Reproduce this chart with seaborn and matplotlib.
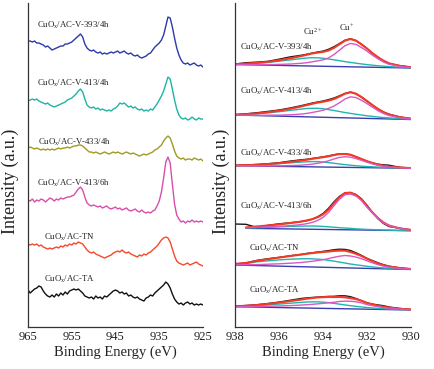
import numpy as np
import matplotlib
matplotlib.use("Agg")
import matplotlib.pyplot as plt
import seaborn as sns

sns.set_style("white")
plt.rcParams["font.family"] = ["Liberation Serif", "DejaVu Serif"]
plt.rcParams["mathtext.default"] = "regular"

# ---------------- left panel: Cu 2p spectra, 965 -> 925 eV, 0.5 eV step
energy_wide = np.arange(965.0, 924.9, -0.5)

# intensity above each trace's own tail level (a.u.)
cu_393_4h = [26, 26, 25, 26, 24, 24, 23, 22, 20, 21,
             19, 17, 18, 19, 20, 21, 21, 23, 23, 24,
             25, 27, 29, 31, 33, 30, 23, 19, 17, 16,
             17, 15, 14, 15, 13, 14, 13, 14, 15, 14,
             15, 16, 14, 15, 16, 14, 13, 14, 12, 11,
             12, 10, 9, 10, 11, 13, 14, 17, 20, 22,
             24, 27, 32, 41, 50, 49, 40, 29, 19, 12,
             7, 4, 3, 4, 2, 3, 4, 2, 1, 2, 0]
cu_413_4h = [18, 19, 20, 19, 20, 18, 17, 16, 15, 16,
             14, 13, 12, 13, 14, 15, 16, 17, 19, 20,
             21, 23, 25, 28, 30, 27, 20, 14, 12, 11,
             12, 10, 11, 9, 10, 9, 8, 9, 8, 10,
             11, 13, 16, 15, 16, 14, 12, 13, 11, 12,
             10, 9, 10, 8, 9, 8, 10, 9, 12, 15,
             19, 23, 28, 35, 42, 40, 30, 19, 10, 4,
             1, 0, 1, -1, 0, 2, 0, -1, 1, 0, 0]
cu_433_4h = [12, 13, 12, 11, 12, 11, 10, 11, 10, 11,
             10, 11, 10, 11, 12, 11, 12, 12, 13, 12,
             13, 14, 14, 15, 15, 14, 12, 10, 8, 8,
             7, 8, 7, 6, 7, 8, 7, 6, 7, 8,
             7, 8, 7, 6, 7, 8, 7, 6, 7, 6,
             5, 4, 5, 6, 5, 6, 7, 8, 10, 11,
             13, 15, 19, 22, 24, 22, 16, 9, 4, 2,
             1, 2, 0, 1, 1, 0, 2, 1, 0, 1, -1]
cu_413_6h = [22, 21, 23, 20, 22, 21, 23, 22, 20, 22,
             24, 23, 21, 23, 22, 24, 23, 24, 25, 25,
             26, 27, 30, 33, 35, 32, 25, 19, 17, 16,
             17, 16, 15, 16, 14, 15, 16, 14, 13, 14,
             15, 13, 14, 12, 13, 14, 12, 11, 12, 13,
             11, 10, 12, 10, 9, 10, 9, 11, 12, 16,
             21, 30, 44, 60, 65, 59, 38, 18, 7, 3,
             0, 1, -1, 1, 0, 2, 0, 1, 0, 1, 0]
cu_tn = [21, 20, 21, 20, 21, 19, 20, 18, 17, 16,
         17, 16, 17, 18, 17, 19, 18, 20, 19, 21,
         20, 22, 21, 23, 22, 21, 18, 15, 13, 12,
         13, 11, 10, 9, 8, 7, 8, 9, 10, 12,
         13, 14, 13, 15, 13, 12, 13, 11, 10, 9,
         8, 10, 9, 11, 10, 12, 13, 15, 17, 19,
         22, 25, 27, 28, 27, 23, 16, 9, 4, 2,
         1, 0, 1, 2, 0, 1, 2, 3, 1, 0, -1]
cu_ta = [14, 11, 13, 15, 16, 18, 17, 13, 10, 8,
         7, 9, 7, 10, 8, 11, 9, 12, 10, 13,
         14, 15, 14, 15, 13, 11, 8, 7, 6, 7,
         5, 8, 6, 7, 5, 8, 7, 9, 11, 13,
         14, 13, 11, 12, 10, 11, 8, 9, 7, 6,
         7, 5, 4, 3, 6, 7, 9, 8, 11, 13,
         15, 17, 19, 22, 20, 16, 10, 5, 2, 0,
         1, -1, 1, 2, 0, 1, -1, 0, -1, 0, -1]

wide_series = [cu_393_4h, cu_413_4h, cu_433_4h, cu_413_6h, cu_tn, cu_ta]
wide_offsets = [260, 208, 167, 105, 62, 23]
wide_colors = ["#2c3aa6", "#1fb3a6", "#a09a22", "#d94ea8", "#f5482a", "#111111"]

sample_names = [r"CuO$_x$/AC-V-393/4h", r"CuO$_x$/AC-V-413/4h", r"CuO$_x$/AC-V-433/4h",
                r"CuO$_x$/AC-V-413/6h", r"CuO$_x$/AC-TN", r"CuO$_x$/AC-TA"]

# ---------------- right panel: Cu 2p3/2 peak fitting, 938 -> 930 eV
energy_fit = [938.0, 937.5, 937.0, 936.5, 936.0, 935.5, 935.0, 934.75, 934.5,
              934.25, 934.0, 933.75, 933.5, 933.25, 933.0, 932.75, 932.5,
              932.25, 932.0, 931.75, 931.5, 931.25, 931.0, 930.5, 930.0]

# raw data, envelope, Cu2+ and Cu+ components, baseline end points
raw_393 = [0.5, 1.8, 2.4, 3.2, 5.3, 7.6, 9.2, 10.2, 11.4, 12.5, 13.4, 15.2, 17.8,
           21.0, 24.3, 25.8, 24.0, 20.3, 16.0, 11.0, 7.0, 3.6, 1.0, -1.2, -2.6]
env_393 = [0.3, 0.9, 1.7, 2.7, 4.3, 6.2, 8.4, 9.7, 11.0, 11.9, 12.65, 14.0, 16.7,
           20.3, 23.9, 25.5, 23.8, 20.1, 15.9, 11.3, 7.3, 3.8, 1.2, -1.4, -2.7]
cu2_393 = [0.3, 0.8, 1.4, 2.1, 3.3, 4.6, 5.9, 6.5, 6.8, 6.7, 6.25, 5.5, 4.7,
           3.8, 2.9, 2.1, 1.3, 0.6, -0.1, -0.7, -1.2, -1.7, -2.1, -2.7, -3.2]
cu1_393 = [0.0, -0.1, -0.1, -0.1, 0.1, 0.5, 1.2, 1.8, 2.7, 3.6, 4.65, 6.6, 10.0,
           14.4, 18.8, 21.1, 20.1, 17.0, 13.4, 9.3, 5.7, 2.5, 0.2, -2.0, -3.0]
base_393 = [0.0, -3.5]

raw_413 = [0.4, 1.2, 2.3, 3.6, 5.0, 7.0, 9.3, 10.6, 11.9, 13.0, 14.0, 15.4, 17.0,
           19.2, 21.6, 22.9, 21.2, 17.8, 13.8, 9.8, 6.1, 3.0, 0.8, -2.0, -3.6]
env_413 = [0.3, 0.8, 1.6, 2.8, 4.3, 6.2, 8.5, 9.9, 11.2, 12.4, 13.25, 14.4, 16.0,
           18.5, 21.3, 22.8, 21.3, 18.0, 14.0, 9.9, 6.0, 2.8, 0.5, -2.2, -3.7]
cu2_413 = [0.3, 0.7, 1.3, 2.2, 3.3, 4.6, 5.9, 6.5, 6.7, 6.7, 6.25, 5.4, 4.5,
           3.5, 2.5, 1.6, 0.8, 0.0, -0.8, -1.4, -2.0, -2.5, -2.9, -3.6, -4.2]
cu1_413 = [0.0, -0.2, -0.3, -0.2, -0.1, 0.2, 0.9, 1.6, 2.5, 3.6, 4.75, 6.6, 9.0,
           12.3, 16.0, 18.2, 17.4, 14.8, 11.4, 7.8, 4.3, 1.5, -0.5, -2.8, -4.0]
base_413 = [0.0, -4.5]

raw_433 = [0.3, 0.7, 1.3, 2.0, 3.0, 4.6, 5.9, 6.4, 7.2, 8.0, 8.8, 9.8, 11.0,
           11.9, 11.9, 11.0, 8.8, 6.5, 4.4, 2.8, 1.5, 0.9, 0.5, -1.6, -2.3]
env_433 = [0.2, 0.5, 0.9, 1.6, 2.55, 3.8, 5.1, 5.95, 6.85, 7.7, 8.5, 9.4, 10.65,
           11.65, 11.7, 11.0, 8.9, 6.75, 4.55, 2.7, 1.1, 0.0, -0.9, -1.85, -2.35]
cu2_433 = [0.2, 0.4, 0.8, 1.3, 2.0, 2.9, 3.6, 3.95, 4.15, 4.1, 3.7, 3.1, 2.45,
           1.75, 1.1, 0.5, 0.0, -0.45, -0.85, -1.1, -1.4, -1.7, -1.9, -2.25, -2.5]
cu1_433 = [0.0, -0.1, -0.2, -0.2, -0.15, 0.1, 0.5, 0.95, 1.55, 2.4, 3.5, 4.9, 6.75,
           8.35, 9.0, 8.5, 7.1, 5.35, 3.45, 1.8, 0.4, -0.6, -1.3, -2.05, -2.45]
base_433 = [0.0, -2.6]

# 413/6h fit starts at 937.5 eV (one point later than the raw data)
raw_6h = [4.3, 4.0, 0.8, 3.0, 4.5, 5.5, 6.8, 7.6, 9.0, 11.5, 14.8, 20.0, 26.5,
          32.0, 35.5, 35.6, 33.8, 29.5, 23.0, 15.8, 9.5, 4.8, 1.8, 0.0, -1.5]
env_6h = [0.9, 1.9, 2.8, 3.9, 5.2, 6.7, 7.8, 9.1, 11.0, 13.9, 18.5, 25.1,
          31.1, 35.3, 35.7, 33.3, 28.7, 21.9, 15.7, 10.3, 5.8, 2.8, -0.1, -1.6]
cu2_6h = [0.3, 0.6, 1.0, 1.4, 1.9, 2.2, 2.3, 2.3, 2.2, 1.9, 1.5, 1.1,
          0.6, 0.3, -0.1, -0.5, -0.8, -1.1, -1.3, -1.5, -1.7, -1.8, -2.1, -2.3]
cu1_6h = [0.6, 1.1, 1.5, 2.0, 2.7, 3.7, 4.6, 5.8, 7.8, 10.9, 15.8, 22.7,
          29.1, 33.6, 34.3, 32.2, 27.8, 21.2, 15.2, 9.9, 5.5, 2.5, -0.2, -1.7]
base_6h = [0.0, -2.4]

raw_tn = [1.0, 2.0, 4.6, 6.3, 7.6, 9.2, 10.6, 11.5, 12.2, 12.9, 13.6, 14.4, 15.3,
          15.8, 15.6, 14.5, 12.2, 9.6, 6.6, 4.4, 2.2, 0.3, -1.2, -2.9, -3.9]
env_tn = [1.1, 2.1, 4.2, 5.8, 7.4, 9.0, 10.4, 11.2, 11.9, 12.5, 13.05, 13.5, 14.1,
          14.4, 14.3, 13.0, 11.2, 9.0, 6.3, 3.8, 1.5, -0.2, -1.5, -3.1, -4.0]
cu2_tn = [0.8, 1.5, 3.2, 4.2, 5.1, 5.8, 6.2, 6.3, 6.2, 5.9, 5.45, 4.7, 3.9,
          2.9, 2.0, 1.0, 0.2, -0.5, -1.3, -1.9, -2.5, -2.9, -3.2, -3.8, -4.3]
cu1_tn = [0.3, 0.3, 0.4, 0.8, 1.2, 1.8, 2.5, 3.1, 3.7, 4.5, 5.35, 6.4, 7.7,
          8.8, 9.5, 9.0, 7.9, 6.3, 4.2, 2.2, 0.3, -1.1, -2.2, -3.5, -4.2]
base_tn = [0.0, -4.5]

raw_ta = [0.6, 1.2, 2.0, 3.2, 4.6, 6.4, 8.2, 8.8, 9.2, 9.6, 10.0, 10.3, 10.4,
          10.9, 10.9, 10.0, 8.2, 6.0, 3.8, 2.6, 1.8, 1.0, -0.3, -1.8, -2.7]
env_ta = [0.4, 0.9, 1.7, 2.8, 4.1, 5.6, 7.1, 8.0, 8.65, 9.25, 9.55, 9.75, 9.65,
          9.75, 9.35, 8.65, 7.55, 5.95, 3.8, 2.3, 1.0, 0.0, -0.9, -2.05, -2.8]
cu2_ta = [0.3, 0.6, 1.1, 1.8, 2.6, 3.5, 4.3, 4.7, 4.85, 4.85, 4.55, 4.05, 3.35,
          2.55, 1.75, 1.05, 0.35, -0.25, -0.8, -1.3, -1.7, -2.0, -2.3, -2.75, -3.1]
cu1_ta = [0.1, 0.1, 0.2, 0.4, 0.7, 1.1, 1.6, 2.0, 2.35, 2.85, 3.35, 3.95, 4.45,
          5.25, 5.55, 5.45, 4.95, 3.85, 2.1, 1.0, 0.0, -0.8, -1.5, -2.4, -3.0]
base_ta = [0.0, -3.3]

fit_sets = [
    (raw_393, env_393, cu2_393, cu1_393, base_393),
    (raw_413, env_413, cu2_413, cu1_413, base_413),
    (raw_433, env_433, cu2_433, cu1_433, base_433),
    (raw_6h, env_6h, cu2_6h, cu1_6h, base_6h),
    (raw_tn, env_tn, cu2_tn, cu1_tn, base_tn),
    (raw_ta, env_ta, cu2_ta, cu1_ta, base_ta),
]
fit_offsets = [262.5, 212, 161.3, 98.7, 62, 20.3]

# ---------------- figure
fig = plt.figure(figsize=(4.34, 3.69), dpi=100)
ax1 = fig.add_axes([0.0645, 0.1138, 0.4032, 0.878])
ax2 = fig.add_axes([0.5415, 0.1138, 0.4055, 0.878])

for vals, off, col in zip(wide_series, wide_offsets, wide_colors):
    sns.lineplot(x=energy_wide, y=np.array(vals) + off, ax=ax1, color=col,
                 lw=1.0, estimator=None, sort=False)

wide_label_pos = [(962.9, 302), (962.9, 244), (962.7, 185), (962.9, 144), (961.3, 90), (961.3, 48)]
for name, (lx, ly) in zip(sample_names, wide_label_pos):
    ax1.text(lx, ly, name, fontsize=6.3, ha="left", va="center", color="#222222")

for (raw, env, cu2, cu1, base), off in zip(fit_sets, fit_offsets):
    e_fit = energy_fit[len(energy_fit) - len(env):]
    sns.lineplot(x=[e_fit[0], e_fit[-1]], y=np.array(base) + off, ax=ax2,
                 color="#3a3fb0", lw=1.0, estimator=None, sort=False)
    sns.lineplot(x=e_fit, y=np.array(cu2) + off, ax=ax2, color="#22b4ae",
                 lw=1.0, estimator=None, sort=False)
    sns.lineplot(x=energy_fit, y=np.array(raw) + off, ax=ax2, color="#161616",
                 lw=1.0, estimator=None, sort=False)
    sns.lineplot(x=e_fit, y=np.array(env) + off, ax=ax2, color="#f23a24",
                 lw=1.5, estimator=None, sort=False)
    sns.lineplot(x=e_fit, y=np.array(cu1) + off, ax=ax2, color="#d957c4",
                 lw=1.0, estimator=None, sort=False)

fit_label_pos = [(937.77, 280), (937.77, 236), (937.77, 173.7), (937.77, 120.3), (937.36, 78.7), (937.36, 37)]
for name, (lx, ly) in zip(sample_names, fit_label_pos):
    ax2.text(lx, ly, name, fontsize=6.3, ha="left", va="center", color="#222222")
ax2.text(934.45, 295.5, r"Cu$^{2+}$", fontsize=6.3, ha="center", va="center", color="#222222")
ax2.text(932.9, 299.5, r"Cu$^{+}$", fontsize=6.3, ha="center", va="center", color="#222222")

# ---------------- axes styling
for ax, lim, ticks, ylab_x in [(ax1, (965, 925), [965, 955, 945, 935, 925], -0.05),
                               (ax2, (938, 930), [938, 936, 934, 932, 930], -0.03)]:
    ax.set_xlim(*lim)
    ax.set_ylim(0, 324)
    ax.set_xticks(ticks)
    ax.set_xticklabels([str(t) for t in ticks])
    ax.set_yticks([])
    ax.set_facecolor("white")
    for side in ["top", "right"]:
        ax.spines[side].set_visible(False)
    for side in ["left", "bottom"]:
        ax.spines[side].set_color("#333333")
        ax.spines[side].set_linewidth(0.9)
    ax.tick_params(axis="x", direction="in", length=2.5, width=0.8,
                   labelsize=9, pad=3, colors="#222222")
    ax.set_xlabel("Binding Energy (eV)", fontsize=10.5, labelpad=2, color="#222222")
    ax.set_ylabel("Intensity (a.u.)", fontsize=13, color="#222222")
    ax.yaxis.set_label_coords(ylab_x, 0.45)

fig.savefig("out.png", dpi=100)
